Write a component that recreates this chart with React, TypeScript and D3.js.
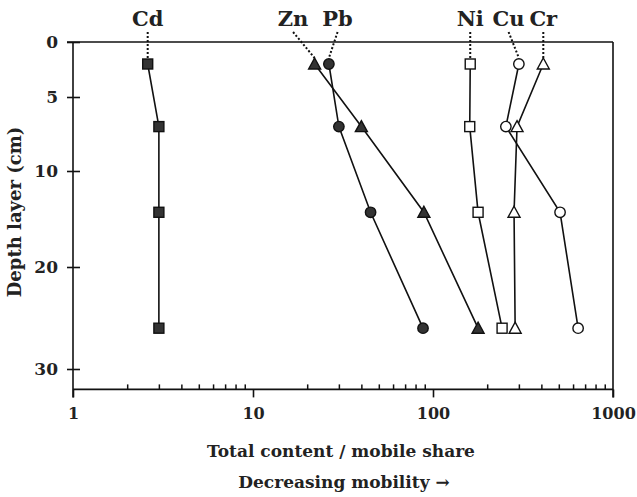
import { useEffect, useRef } from 'react'
import * as d3 from 'd3'

const depths = [2, 7, 14.3, 26]

const cd = [2.6, 3, 3, 3]
const zn = [22, 40, 89, 178]
const pb = [26.4, 30, 45, 88]
const ni = [161, 160, 178, 242]
const cu = [300, 254, 508, 640]
const cr = [410, 293, 282, 286]

const xTicks = [1, 10, 100, 1000]
const yTicks = [0, 5, 10, 20, 30]

type Shape = 'square' | 'circle' | 'triangle'

// labelX: where the element name sits on top (in x data units)
const series = [
  { name: 'Cd', values: cd, shape: 'square' as Shape, filled: true, labelX: 2.6 },
  { name: 'Zn', values: zn, shape: 'triangle' as Shape, filled: true, labelX: 16.7 },
  { name: 'Pb', values: pb, shape: 'circle' as Shape, filled: true, labelX: 29.5 },
  { name: 'Ni', values: ni, shape: 'square' as Shape, filled: false, labelX: 161 },
  { name: 'Cu', values: cu, shape: 'circle' as Shape, filled: false, labelX: 263 },
  { name: 'Cr', values: cr, shape: 'triangle' as Shape, filled: false, labelX: 410 },
]

const FONT = '"DejaVu Serif", "Liberation Serif", serif'

export default function App() {
  const ref = useRef<SVGSVGElement | null>(null)

  useEffect(() => {
    const svg = d3.select(ref.current)
    svg.selectAll('*').remove()

    const left = 73
    const right = 613
    const top = 42

    const x = d3.scaleLog().domain([1, 1000]).range([left, right])
    // the depth axis is not linear in the original, so map it piece by piece
    const y = d3.scaleLinear().domain(yTicks).range([42, 97, 171, 267, 369])
    const bottom = y(32)

    const g = svg.append('g')

    // frame
    g.append('line').attr('x1', left - 6).attr('x2', right).attr('y1', top).attr('y2', top)
    g.append('line').attr('x1', left).attr('x2', right).attr('y1', bottom).attr('y2', bottom)
    g.append('line').attr('x1', left).attr('x2', left).attr('y1', top).attr('y2', bottom + 8)
    g.append('line').attr('x1', right).attr('x2', right).attr('y1', top).attr('y2', bottom + 8)
    g.selectAll('line').attr('stroke', '#111').attr('stroke-width', 1.6)

    // y axis, ticks cross the line
    const yAxis = svg
      .append('g')
      .attr('transform', `translate(${left},0)`)
      .call(d3.axisLeft(y).tickValues(yTicks).tickSize(6).tickPadding(9).tickFormat(d3.format('d')))
    yAxis.select('.domain').remove()
    yAxis.selectAll('.tick line').attr('x2', -6).attr('x1', 7).attr('stroke', '#111').attr('stroke-width', 1.6)
    yAxis
      .selectAll('.tick text')
      .attr('font-family', FONT)
      .attr('font-size', 17)
      .attr('font-weight', 'bold')
      .attr('fill', '#222')

    // x axis major ticks + labels
    const xAxis = svg
      .append('g')
      .attr('transform', `translate(0,${bottom})`)
      .call(d3.axisBottom(x).tickValues(xTicks).tickSize(8).tickPadding(10).tickFormat(d3.format('d')))
    xAxis.select('.domain').remove()
    xAxis.selectAll('.tick line').attr('stroke', '#111').attr('stroke-width', 1.6)
    xAxis
      .selectAll('.tick text')
      .attr('font-family', FONT)
      .attr('font-size', 16)
      .attr('font-weight', 'bold')
      .attr('fill', '#222')

    // minor ticks pointing inward
    const minor: number[] = []
    ;[1, 10, 100].forEach((dec) => d3.range(2, 10).forEach((m) => minor.push(dec * m)))
    const xMinor = svg
      .append('g')
      .attr('transform', `translate(0,${bottom})`)
      .call(d3.axisTop(x).tickValues(minor).tickSize(5).tickFormat(() => ''))
    xMinor.select('.domain').remove()
    xMinor.selectAll('.tick line').attr('stroke', '#111').attr('stroke-width', 1.5)

    // series
    const line = d3
      .line<number>()
      .x((d) => x(d))
      .y((_, i) => y(depths[i]))

    series.forEach((s) => {
      svg
        .append('path')
        .attr('d', line(s.values))
        .attr('fill', 'none')
        .attr('stroke', '#111')
        .attr('stroke-width', 1.6)
    })

    series.forEach((s) => {
      const fill = s.filled ? '#333' : '#fff'
      const grp = svg.append('g')
      s.values.forEach((v, i) => {
        const cx = x(v)
        const cy = y(depths[i])
        if (s.shape === 'square') {
          grp
            .append('rect')
            .attr('x', cx - 5)
            .attr('y', cy - 5)
            .attr('width', 10)
            .attr('height', 10)
            .attr('fill', fill)
            .attr('stroke', '#111')
            .attr('stroke-width', 1.4)
        } else if (s.shape === 'circle') {
          grp
            .append('circle')
            .attr('cx', cx)
            .attr('cy', cy)
            .attr('r', 5.2)
            .attr('fill', fill)
            .attr('stroke', '#111')
            .attr('stroke-width', 1.4)
        } else {
          grp
            .append('path')
            .attr('d', `M${cx},${cy - 6}L${cx + 6},${cy + 5}L${cx - 6},${cy + 5}Z`)
            .attr('fill', fill)
            .attr('stroke', '#111')
            .attr('stroke-width', 1.4)
        }
      })

      // label + dotted leader to the first point
      const lx = x(s.labelX)
      svg
        .append('text')
        .attr('x', lx)
        .attr('y', 26)
        .attr('text-anchor', 'middle')
        .attr('font-family', FONT)
        .attr('font-size', 21)
        .attr('font-weight', 'bold')
        .attr('fill', '#222')
        .text(s.name)
      const px = x(s.values[0])
      svg
        .append('line')
        .attr('x1', lx)
        .attr('y1', 32)
        .attr('x2', px)
        .attr('y2', y(depths[0]) - 6)
        .attr('stroke', '#111')
        .attr('stroke-width', 2)
        .attr('stroke-dasharray', '2,2')
    })

    // titles
    svg
      .append('text')
      .attr('x', 341)
      .attr('y', 457)
      .attr('text-anchor', 'middle')
      .attr('font-family', FONT)
      .attr('font-size', 17)
      .attr('font-weight', 'bold')
      .attr('fill', '#222')
      .text('Total content / mobile share')
    svg
      .append('text')
      .attr('x', 344)
      .attr('y', 488)
      .attr('text-anchor', 'middle')
      .attr('font-family', FONT)
      .attr('font-size', 17)
      .attr('font-weight', 'bold')
      .attr('fill', '#222')
      .text('Decreasing mobility  \u2192')
    svg
      .append('text')
      .attr('transform', `translate(21,212) rotate(-90)`)
      .attr('text-anchor', 'middle')
      .attr('font-family', FONT)
      .attr('font-size', 18)
      .attr('font-weight', 'bold')
      .attr('fill', '#222')
      .text('Depth layer (cm)')
  }, [])

  return (
    <div style={{ position: 'absolute', left: 0, top: 0 }}>
      <svg ref={ref} width={637} height={497} style={{ display: 'block', background: '#fff' }} />
    </div>
  )
}
